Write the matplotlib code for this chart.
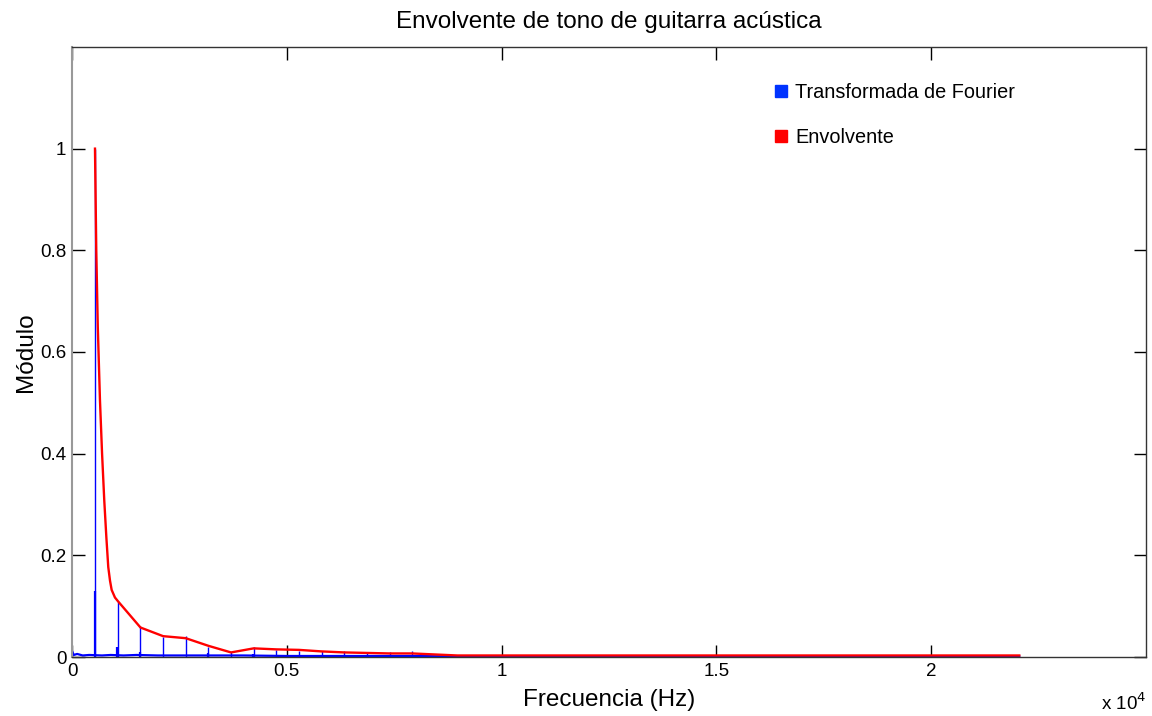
import matplotlib.pyplot as plt
from matplotlib.lines import Line2D

plt.rcParams['font.family'] = ['Liberation Sans', 'DejaVu Sans']

# harmonic peaks of the spectrum (Hz, modulus)
harm_hz = [540, 1067, 1594, 2121, 2648, 3175, 3702, 4229, 4756, 5283,
           5810, 6337, 6864, 7391, 7918]
harm_mod = [1.0, 0.109, 0.061, 0.040, 0.041, 0.020, 0.010, 0.020, 0.014,
            0.012, 0.011, 0.011, 0.009, 0.009, 0.011]

# smaller side bins next to the peaks
side_hz = [530, 1058, 1585, 3168, 4220]
side_mod = [0.13, 0.020, 0.010, 0.008, 0.006]

# noise floor of the spectrum
floor_hz = [0, 40, 120, 250, 400, 700, 900, 1200, 1500, 2000, 2600, 3200,
            4000, 5000, 6500, 8000, 9000, 12000, 16000, 22050]
floor_mod = [0.012, 0.004, 0.006, 0.003, 0.004, 0.003, 0.004, 0.003, 0.004,
             0.003, 0.003, 0.003, 0.003, 0.002, 0.002, 0.002, 0.001, 0.001,
             0.001, 0.001]

# envelope
env_hz = [535, 550, 565, 600, 651, 700, 751, 800, 844, 885, 923, 1000, 1067,
          1594, 2121, 2648, 3175, 3702, 4229, 4756, 5283, 5810, 6337, 6864,
          7391, 7918, 8972, 22050]
env_mod = [1.0, 0.90, 0.80, 0.65, 0.505, 0.40, 0.308, 0.235, 0.177, 0.150,
           0.132, 0.117, 0.110, 0.058, 0.041, 0.037, 0.022, 0.009, 0.017,
           0.015, 0.014, 0.011, 0.009, 0.008, 0.007, 0.007, 0.003, 0.003]

fig = plt.figure(figsize=(11.52, 7.16), dpi=100)
ax = fig.add_axes([0.0625, 0.0824, 0.9323, 0.852])

blue = '#0000ff'
ax.plot(floor_hz, floor_mod, color=blue, lw=1.6)
ax.vlines(harm_hz, 0, harm_mod, color=blue, lw=1.0)
ax.vlines(side_hz, 0, side_mod, color=blue, lw=1.6)
ax.plot(env_hz, env_mod, color='red', lw=1.7)

ax.set_xlim(0, 25000)
ax.set_ylim(0, 1.2)
ax.set_xticks([0, 5000, 10000, 15000, 20000])
ax.set_xticklabels(['0', '0.5', '1', '1.5', '2'])
ax.set_yticks([0, 0.2, 0.4, 0.6, 0.8, 1.0])
ax.set_yticklabels(['0', '0.2', '0.4', '0.6', '0.8', '1'])
ax.tick_params(direction='in', length=9, width=1, labelsize=13.5,
               top=True, right=True, pad=4)
for s in ax.spines.values():
    s.set_color('#333333')
    s.set_linewidth(1.0)
ax.spines['left'].set_color('#999999')
ax.spines['left'].set_linewidth(1.5)

ax.set_title('Envolvente de tono de guitarra acústica', fontsize=17.5, pad=14)
ax.set_xlabel('Frecuencia (Hz)', fontsize=17.5, labelpad=7)
ax.set_ylabel('Módulo', fontsize=17.5, labelpad=2)
ax.text(1.0, -0.058, r'x 10$^4$', transform=ax.transAxes, ha='right',
        va='top', fontsize=13.5)

handles = [
    Line2D([], [], ls='none', marker='s', ms=9, color='#0033ff'),
    Line2D([], [], ls='none', marker='s', ms=9, color='#ff0000'),
]
ax.legend(handles, ['Transformada de Fourier', 'Envolvente'],
          loc='upper left', bbox_to_anchor=(0.632, 0.97), frameon=False,
          fontsize=14.3, labelspacing=1.3, handletextpad=0.15,
          handlelength=1.2)

fig.savefig('out.png', dpi=100)
